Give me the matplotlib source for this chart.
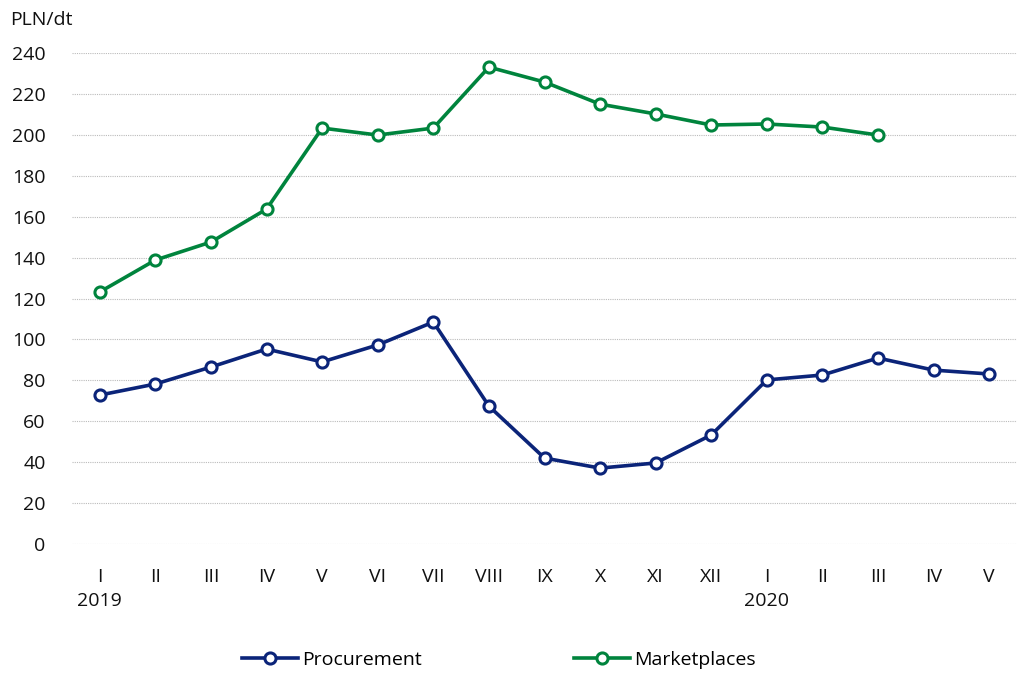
import matplotlib
matplotlib.use("Agg")
import matplotlib.pyplot as plt

months = ["I", "II", "III", "IV", "V", "VI", "VII", "VIII", "IX", "X", "XI", "XII",
          "I", "II", "III", "IV", "V"]
years = {"2019": 0, "2020": 12}
procurement = [72.8, 78.2, 86.5, 95.3, 89.0, 97.3, 108.5, 67.4, 42.0, 37.1, 39.6, 53.3,
               80.2, 82.6, 90.9, 85.0, 83.1]
marketplaces = [123.2, 138.8, 147.6, 163.7, 203.3, 199.9, 203.3, 233.1, 225.8, 215.0,
                210.2, 204.8, 205.3, 203.8, 199.9]
yticks = list(range(0, 241, 20))

plt.rcParams['font.family'] = ['Open Sans', 'DejaVu Sans']
navy = "#0b2479"
green = "#00843d"
fs = 14

fig = plt.figure(figsize=(10.18, 6.86), dpi=100)
ax = fig.add_axes([72/1018, 1-544/686, 945/1018, (544-53)/686])

x = list(range(len(months)))
ax.plot(x[:len(procurement)], procurement, color=navy, lw=2.6, marker="o", ms=8,
        mfc="white", mec=navy, mew=2.2, label="Procurement", zorder=3)
ax.plot(x[:len(marketplaces)], marketplaces, color=green, lw=2.6, marker="o", ms=8,
        mfc="white", mec=green, mew=2.2, label="Marketplaces", zorder=3)

ax.set_xlim(-0.5, len(months) - 0.5)
ax.set_ylim(0, 240)
ax.set_yticks(yticks)
ax.set_yticklabels([str(v) for v in yticks], fontsize=fs)
ax.set_xticks(x)
ax.set_xticklabels(months, fontsize=fs)
ax.tick_params(axis="both", length=0, colors="#111111")
ax.tick_params(axis="y", pad=19)
ax.tick_params(axis="x", pad=17)
for s in ax.spines.values():
    s.set_visible(False)
ax.grid(axis="y", color="#bbbbbb", lw=0.8, ls=(0, (1, 1)))
ax.set_axisbelow(True)

for label, pos in years.items():
    ax.text(pos, -28, label, ha="center", va="center", fontsize=fs, color="#111111")

fig.text(10/1018, 1-20/686, "PLN/dt", ha="left", va="center", fontsize=fs, color="#111111")

fig.legend(loc="center", bbox_to_anchor=(0.49, 1-660/686), ncol=2, frameon=False,
           fontsize=fs, columnspacing=7.8, handlelength=2.9, handletextpad=0.2)

fig.savefig("out.png", dpi=100)
